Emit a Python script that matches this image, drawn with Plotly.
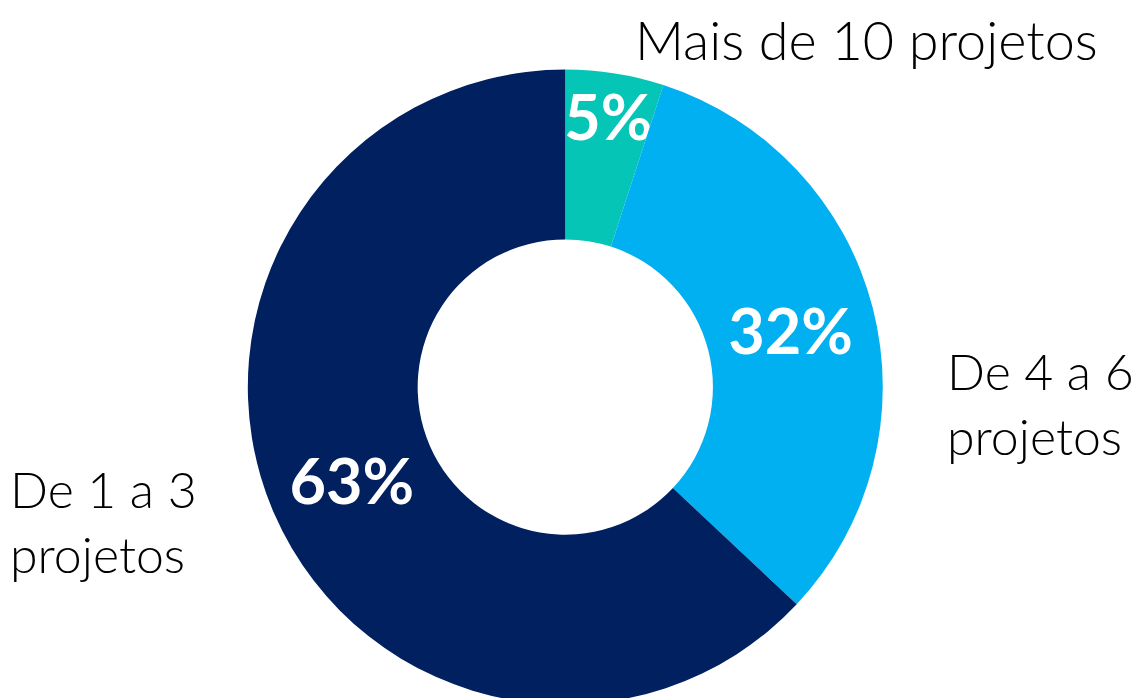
import plotly.graph_objects as go

categories = ["Mais de 10 projetos", "De 4 a 6 projetos", "De 1 a 3 projetos"]
values = [5, 32, 63]
colors = ["#05C6B6", "#00B0F0", "#002060"]
label_text = ["Mais de 10 projetos", "De 4 a 6<br>projetos", "De 1 a 3<br>projetos"]

fig = go.Figure()
fig.add_trace(go.Pie(
    labels=categories,
    values=values,
    hole=0.465,
    sort=False,
    direction="clockwise",
    rotation=0,
    marker=dict(colors=colors, line=dict(width=0)),
    textinfo="percent",
    texttemplate="%{percent:.0%}",
    textposition="inside",
    insidetextorientation="horizontal",
    textfont=dict(family="Lato", size=63, color="white", weight="bold"),
    domain=dict(x=[0.21, 0.766], y=[0.0, 0.914]),
    showlegend=False,
    hoverinfo="label+percent",
))

ann_pos = [
    dict(x=858 / 1142, y=1 - 31 / 698, xanchor="center", size=54),
    dict(x=937 / 1142, y=1 - 395 / 698, xanchor="left", size=50),
    dict(x=0 / 1142, y=1 - 513 / 698, xanchor="left", size=50),
]
for txt, p in zip(label_text, ann_pos):
    fig.add_annotation(
        text=txt, xref="paper", yref="paper", x=p["x"], y=p["y"],
        xanchor=p["xanchor"], yanchor="middle", showarrow=False, align="left",
        font=dict(family="Lato", size=p["size"], color="black", weight=300),
    )

fig.update_layout(
    width=1142, height=698,
    margin=dict(l=0, r=0, t=0, b=0),
    paper_bgcolor="white", plot_bgcolor="white",
    uniformtext=dict(minsize=63, mode="show"),
)

fig.write_html("out.html")
